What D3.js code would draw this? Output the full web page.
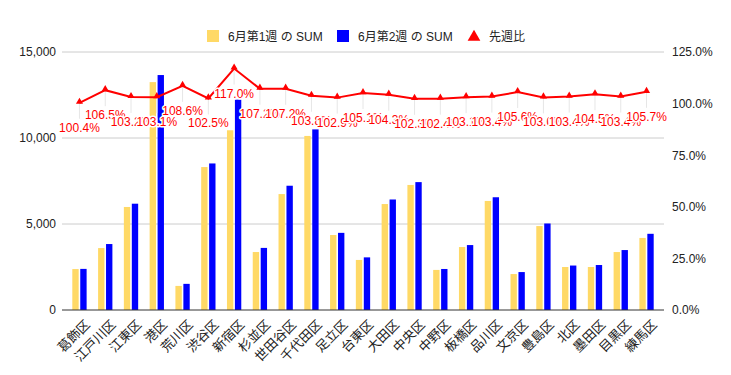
<!DOCTYPE html>
<html>
<head>
<meta charset="utf-8">
<script src="https://cdn.jsdelivr.net/npm/d3@7"></script>
<style>
  body { margin: 0; background: #fff; }
  svg { display: block; font-family: Arial, "Liberation Sans", "Noto Sans CJK JP", sans-serif; }
</style>
</head>
<body>
<svg id="chart" width="731" height="375"></svg>
<script>
// 区の名前
var districts = ["葛飾区","江戸川区","江東区","港区","荒川区","渋谷区","新宿区","杉並区","世田谷区","千代田区","足立区","台東区","大田区","中央区","中野区","板橋区","品川区","文京区","豊島区","北区","墨田区","目黒区","練馬区"];
// 6月第1週 の SUM
var week1 = [2380,3600,5990,13250,1400,8310,10450,3370,6740,10120,4360,2910,6160,7270,2330,3660,6340,2090,4880,2500,2500,3370,4190];
// 6月第2週 の SUM
var week2 = [2390,3835,6180,13660,1520,8520,12230,3610,7225,10500,4485,3060,6425,7435,2385,3775,6555,2205,5030,2585,2615,3485,4430];
// 先週比 (%)
var ratio = [100.4,106.5,103.2,103.1,108.6,102.5,117.0,107.2,107.2,103.8,102.9,105.1,104.3,102.3,102.4,103.1,103.4,105.6,103.0,103.4,104.5,103.4,105.7];

var leftTicks = [0,5000,10000,15000];
var rightTicks = [0,0.25,0.5,0.75,1.0,1.25];

var seriesNames = ["6月第1週 の SUM","6月第2週 の SUM","先週比"];
var colors = ["#ffd966","#0000ff","#ff0000"];

var svg = d3.select("#chart");
var plotL = 62, plotR = 664, plotT = 52, plotB = 310;

var x = d3.scaleBand().domain(districts).range([plotL, plotR]).paddingInner(0.445).paddingOuter(0.4);
var xSub = d3.scaleBand().domain([0,1]).range([0, x.bandwidth()]).paddingInner(0.2);
var yL = d3.scaleLinear().domain([0,15000]).range([plotB, plotT]);
var yR = d3.scaleLinear().domain([0,1.25]).range([plotB, plotT]);

// グリッド
svg.append("g").selectAll("line").data(leftTicks.filter(function(d){return d>0;}))
  .enter().append("line")
  .attr("x1", plotL).attr("x2", plotR)
  .attr("y1", function(d){return yL(d);}).attr("y2", function(d){return yL(d);})
  .attr("stroke", "#cccccc").attr("stroke-width", 1);

// 左の軸
var leftAxis = svg.append("g").attr("transform","translate("+plotL+",0)")
  .call(d3.axisLeft(yL).tickValues(leftTicks).tickFormat(d3.format(",")).tickSize(0).tickPadding(6));
leftAxis.select(".domain").remove();
leftAxis.selectAll("text").attr("font-size",12).attr("fill","#222").style("font-family","inherit");

// 右の軸
var rightAxis = svg.append("g").attr("transform","translate("+plotR+",0)")
  .call(d3.axisRight(yR).tickValues(rightTicks).tickFormat(d3.format(".1%")).tickSize(0).tickPadding(8));
rightAxis.select(".domain").remove();
rightAxis.selectAll("text").attr("font-size",12).attr("fill","#222").style("font-family","inherit");

// 棒
var rows = districts.map(function(d,i){ return {name:d, v:[week1[i],week2[i]], r:ratio[i]}; });
var groups = svg.append("g").selectAll("g").data(rows).enter().append("g")
  .attr("transform", function(d){ return "translate("+x(d.name)+",0)"; });
groups.selectAll("rect").data(function(d){ return d.v; }).enter().append("rect")
  .attr("x", function(d,i){ return xSub(i); })
  .attr("width", xSub.bandwidth())
  .attr("y", function(d){ return yL(d); })
  .attr("height", function(d){ return plotB - yL(d); })
  .attr("fill", function(d,i){ return colors[i]; });

// 基線
svg.append("line").attr("x1",plotL).attr("x2",plotR).attr("y1",plotB).attr("y2",plotB)
  .attr("stroke","#333").attr("stroke-width",1);

// X軸ラベル
svg.append("g").selectAll("text").data(districts).enter().append("text")
  .attr("transform", function(d){ return "translate("+(x(d)+x.bandwidth()/2+5)+","+(plotB+9)+") rotate(-45)"; })
  .attr("text-anchor","end").attr("dy","0.7em")
  .attr("font-size",13).attr("fill","#222")
  .text(function(d){ return d; });

// 折れ線
function cx(d){ return x(d.name) + x.bandwidth()/2; }
function cy(d){ return yR(d.r/100); }

svg.append("g").selectAll("line").data(rows).enter().append("line")
  .attr("x1", cx).attr("x2", cx)
  .attr("y1", cy).attr("y2", function(d){ return cy(d)+16; })
  .attr("stroke","#e6e6e6").attr("stroke-width",1);

var line = d3.line().x(cx).y(cy);
svg.append("path").datum(rows).attr("d", line)
  .attr("fill","none").attr("stroke",colors[2]).attr("stroke-width",2);

svg.append("g").selectAll("path").data(rows).enter().append("path")
  .attr("transform", function(d){ return "translate("+cx(d)+","+(cy(d)-1)+")"; })
  .attr("d", d3.symbol(d3.symbolTriangle, 22))
  .attr("fill", colors[2]);

// ラベル
svg.append("g").selectAll("text").data(rows).enter().append("text")
  .attr("x", cx).attr("y", function(d){ return cy(d)+29; })
  .attr("text-anchor","middle").attr("font-size",12)
  .attr("fill",colors[2]).attr("stroke","#fff").attr("stroke-width",3)
  .attr("paint-order","stroke").attr("stroke-linejoin","round")
  .text(function(d){ return d.r.toFixed(1)+"%"; });

// 凡例
var legendX = [207, 337, 468];
var legend = svg.append("g").selectAll("g").data(seriesNames).enter().append("g")
  .attr("transform", function(d,i){ return "translate("+legendX[i]+",30)"; });
legend.each(function(d,i){
  var g = d3.select(this);
  if(i<2){
    g.append("rect").attr("width",12).attr("height",12).attr("fill",colors[i]);
  } else {
    g.append("path").attr("transform","translate(6,7)")
      .attr("d", d3.symbol(d3.symbolTriangle, 70)).attr("fill",colors[i]);
  }
  g.append("text").attr("x",21).attr("y",11).attr("font-size",12).attr("fill","#222").text(d);
});
</script>
</body>
</html>
